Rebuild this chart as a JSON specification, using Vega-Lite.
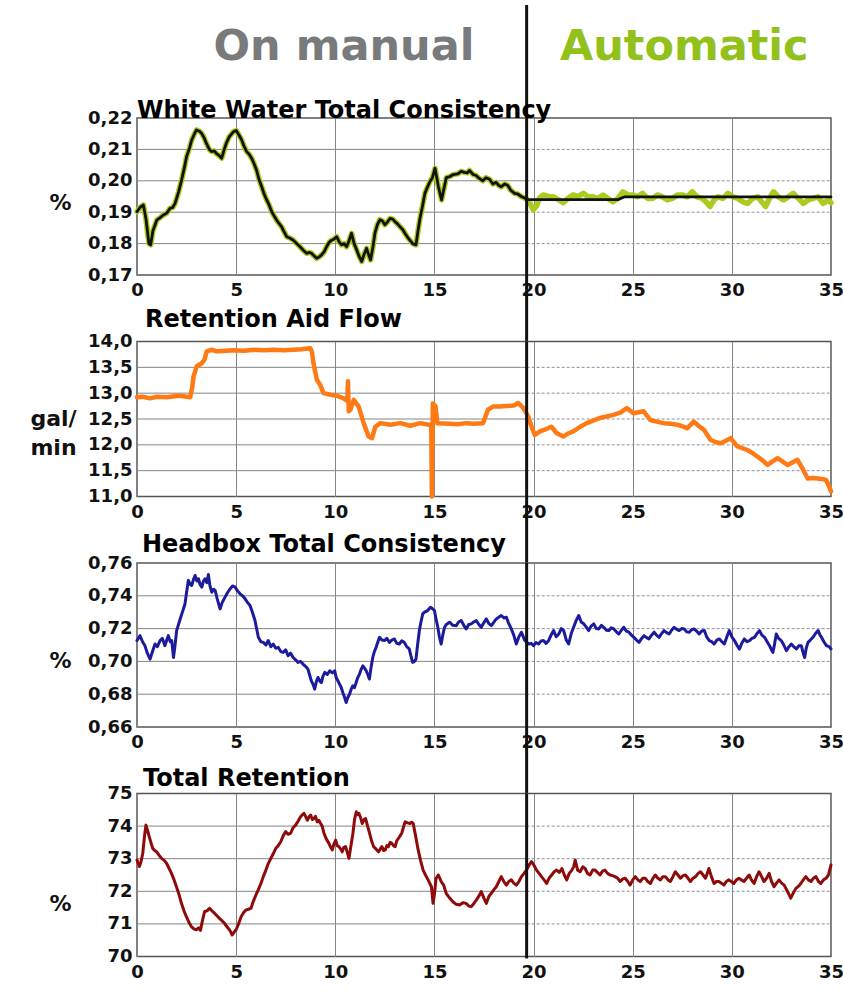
{
  "$schema": "https://vega.github.io/schema/vega-lite/v6.json",
  "background": "white",
  "padding": {"left": 29, "top": 2, "right": 0, "bottom": 8},
  "bounds": "flush",
  "spacing": 66.5,
  "config": {
    "font": "DejaVu Sans",
    "view": {"stroke": "#555555", "strokeWidth": 1.5},
    "axis": {
      "labelFont": "DejaVu Sans",
      "labelFontWeight": "bold",
      "labelFontSize": 18,
      "labelColor": "#111111",
      "ticks": false,
      "domain": false,
      "labelFlush": false,
      "labelOverlap": false,
      "gridColor": "#858585",
      "gridWidth": 1,
      "gridOpacity": 1,
      "titleFont": "DejaVu Sans",
      "titleFontWeight": "bold",
      "titleFontSize": 22,
      "titleColor": "#111111"
    },
    "axisX": {"grid": true, "labelPadding": 6.5},
    "axisY": {"grid": false, "labelPadding": 5, "titleAngle": 0, "titleAlign": "center", "titleBaseline": "middle", "titleX": -77, "titleLineHeight": 29},
    "title": {"font": "DejaVu Sans", "fontSize": 24, "fontWeight": "bold", "color": "#000000", "anchor": "start", "frame": "group"},
    "line": {"strokeJoin": "round", "strokeCap": "round"}
  },
  "datasets": {
    "switch": [{"t": 19.65, "event": "control switched to automatic"}],
    "modes": [
      {"mode": "On manual", "t": 10.44},
      {"mode": "Automatic", "t": 27.6}
    ],
    "g1": [{"v": 0.18}, {"v": 0.19}, {"v": 0.20}, {"v": 0.21}],
    "g2": [{"v": 11.5}, {"v": 12.0}, {"v": 12.5}, {"v": 13.0}, {"v": 13.5}],
    "g3": [{"v": 0.68}, {"v": 0.70}, {"v": 0.72}, {"v": 0.74}],
    "g4": [{"v": 71}, {"v": 72}, {"v": 73}, {"v": 74}],
    "ww": [
      {"t": 0, "v": 0.1902}, {"t": 0.15, "v": 0.1915}, {"t": 0.32, "v": 0.1923}, {"t": 0.45, "v": 0.188}, {"t": 0.6, "v": 0.18}, {"t": 0.69, "v": 0.1796}, {"t": 0.8, "v": 0.184}, {"t": 1.0, "v": 0.1875}, {"t": 1.15, "v": 0.1882}, {"t": 1.33, "v": 0.1891}, {"t": 1.5, "v": 0.1897}, {"t": 1.66, "v": 0.1912}, {"t": 1.8, "v": 0.1915}, {"t": 1.92, "v": 0.1928}, {"t": 2.1, "v": 0.1965}, {"t": 2.25, "v": 0.2003}, {"t": 2.4, "v": 0.2045}, {"t": 2.5, "v": 0.2077}, {"t": 2.65, "v": 0.2105}, {"t": 2.76, "v": 0.213}, {"t": 2.9, "v": 0.215}, {"t": 3.0, "v": 0.2162}, {"t": 3.15, "v": 0.2158}, {"t": 3.26, "v": 0.2151}, {"t": 3.4, "v": 0.2135}, {"t": 3.5, "v": 0.2119}, {"t": 3.65, "v": 0.21}, {"t": 3.76, "v": 0.2093}, {"t": 3.9, "v": 0.2095}, {"t": 4.0, "v": 0.2087}, {"t": 4.15, "v": 0.208}, {"t": 4.27, "v": 0.2072}, {"t": 4.4, "v": 0.21}, {"t": 4.5, "v": 0.2119}, {"t": 4.65, "v": 0.214}, {"t": 4.86, "v": 0.2156}, {"t": 5.0, "v": 0.216}, {"t": 5.15, "v": 0.2145}, {"t": 5.28, "v": 0.213}, {"t": 5.4, "v": 0.211}, {"t": 5.53, "v": 0.2093}, {"t": 5.65, "v": 0.2085}, {"t": 5.78, "v": 0.2072}, {"t": 5.9, "v": 0.2055}, {"t": 6.03, "v": 0.2034}, {"t": 6.15, "v": 0.2005}, {"t": 6.29, "v": 0.1981}, {"t": 6.4, "v": 0.196}, {"t": 6.54, "v": 0.1939}, {"t": 6.65, "v": 0.1925}, {"t": 6.79, "v": 0.1902}, {"t": 6.9, "v": 0.189}, {"t": 7.04, "v": 0.1875}, {"t": 7.15, "v": 0.1865}, {"t": 7.29, "v": 0.1854}, {"t": 7.4, "v": 0.184}, {"t": 7.55, "v": 0.1822}, {"t": 7.7, "v": 0.1818}, {"t": 7.88, "v": 0.1811}, {"t": 8.05, "v": 0.18}, {"t": 8.22, "v": 0.179}, {"t": 8.4, "v": 0.1778}, {"t": 8.55, "v": 0.1769}, {"t": 8.7, "v": 0.1772}, {"t": 8.8, "v": 0.1769}, {"t": 8.95, "v": 0.176}, {"t": 9.06, "v": 0.1753}, {"t": 9.2, "v": 0.1758}, {"t": 9.31, "v": 0.1764}, {"t": 9.45, "v": 0.1775}, {"t": 9.56, "v": 0.179}, {"t": 9.7, "v": 0.1805}, {"t": 9.82, "v": 0.1811}, {"t": 9.95, "v": 0.1815}, {"t": 10.07, "v": 0.1822}, {"t": 10.2, "v": 0.1805}, {"t": 10.32, "v": 0.1796}, {"t": 10.45, "v": 0.18}, {"t": 10.57, "v": 0.179}, {"t": 10.7, "v": 0.181}, {"t": 10.82, "v": 0.1833}, {"t": 10.95, "v": 0.18}, {"t": 11.08, "v": 0.178}, {"t": 11.2, "v": 0.176}, {"t": 11.33, "v": 0.1743}, {"t": 11.45, "v": 0.1765}, {"t": 11.58, "v": 0.1785}, {"t": 11.68, "v": 0.1765}, {"t": 11.78, "v": 0.1748}, {"t": 11.9, "v": 0.179}, {"t": 12.0, "v": 0.1833}, {"t": 12.12, "v": 0.186}, {"t": 12.25, "v": 0.1876}, {"t": 12.38, "v": 0.1872}, {"t": 12.5, "v": 0.186}, {"t": 12.62, "v": 0.1868}, {"t": 12.76, "v": 0.188}, {"t": 12.9, "v": 0.1878}, {"t": 13.01, "v": 0.187}, {"t": 13.15, "v": 0.1862}, {"t": 13.26, "v": 0.1854}, {"t": 13.4, "v": 0.1845}, {"t": 13.51, "v": 0.1833}, {"t": 13.65, "v": 0.182}, {"t": 13.76, "v": 0.1811}, {"t": 13.9, "v": 0.18}, {"t": 14.07, "v": 0.1796}, {"t": 14.17, "v": 0.184}, {"t": 14.27, "v": 0.188}, {"t": 14.4, "v": 0.192}, {"t": 14.52, "v": 0.196}, {"t": 14.65, "v": 0.198}, {"t": 14.77, "v": 0.1997}, {"t": 14.9, "v": 0.201}, {"t": 15.03, "v": 0.204}, {"t": 15.12, "v": 0.201}, {"t": 15.2, "v": 0.1981}, {"t": 15.36, "v": 0.1939}, {"t": 15.48, "v": 0.1975}, {"t": 15.6, "v": 0.201}, {"t": 15.76, "v": 0.2013}, {"t": 15.95, "v": 0.202}, {"t": 16.18, "v": 0.2022}, {"t": 16.35, "v": 0.203}, {"t": 16.52, "v": 0.2027}, {"t": 16.65, "v": 0.2025}, {"t": 16.77, "v": 0.2033}, {"t": 16.95, "v": 0.202}, {"t": 17.1, "v": 0.2017}, {"t": 17.25, "v": 0.2008}, {"t": 17.44, "v": 0.2}, {"t": 17.6, "v": 0.201}, {"t": 17.78, "v": 0.2005}, {"t": 17.95, "v": 0.199}, {"t": 18.11, "v": 0.1995}, {"t": 18.25, "v": 0.1985}, {"t": 18.37, "v": 0.1981}, {"t": 18.55, "v": 0.199}, {"t": 18.7, "v": 0.1985}, {"t": 18.85, "v": 0.197}, {"t": 19.04, "v": 0.196}, {"t": 19.2, "v": 0.1958}, {"t": 19.38, "v": 0.195}, {"t": 19.55, "v": 0.1945}, {"t": 19.68, "v": 0.194},
      {"t": 19.85, "v": 0.1925}, {"t": 19.99, "v": 0.1907}, {"t": 20.08, "v": 0.1915}, {"t": 20.15, "v": 0.192}, {"t": 20.3, "v": 0.1945}, {"t": 20.49, "v": 0.1955}, {"t": 20.75, "v": 0.195}, {"t": 21.0, "v": 0.1949}, {"t": 21.25, "v": 0.194}, {"t": 21.5, "v": 0.193}, {"t": 21.75, "v": 0.1945}, {"t": 22.0, "v": 0.1955}, {"t": 22.25, "v": 0.195}, {"t": 22.5, "v": 0.196}, {"t": 22.75, "v": 0.1949}, {"t": 23.0, "v": 0.1949}, {"t": 23.25, "v": 0.1944}, {"t": 23.5, "v": 0.1955}, {"t": 23.75, "v": 0.1944}, {"t": 24.0, "v": 0.1933}, {"t": 24.25, "v": 0.1944}, {"t": 24.5, "v": 0.1965}, {"t": 24.75, "v": 0.1955}, {"t": 25.0, "v": 0.1955}, {"t": 25.25, "v": 0.1949}, {"t": 25.5, "v": 0.196}, {"t": 25.75, "v": 0.1944}, {"t": 26.0, "v": 0.1944}, {"t": 26.25, "v": 0.1955}, {"t": 26.5, "v": 0.1949}, {"t": 26.75, "v": 0.1939}, {"t": 27.0, "v": 0.1944}, {"t": 27.25, "v": 0.1955}, {"t": 27.5, "v": 0.1955}, {"t": 27.75, "v": 0.1949}, {"t": 28.0, "v": 0.1965}, {"t": 28.25, "v": 0.1949}, {"t": 28.5, "v": 0.1944}, {"t": 28.7, "v": 0.1933}, {"t": 28.9, "v": 0.1918}, {"t": 29.1, "v": 0.1939}, {"t": 29.3, "v": 0.1949}, {"t": 29.55, "v": 0.1944}, {"t": 29.8, "v": 0.196}, {"t": 30.05, "v": 0.1949}, {"t": 30.3, "v": 0.1944}, {"t": 30.55, "v": 0.1933}, {"t": 30.8, "v": 0.1928}, {"t": 31.05, "v": 0.1944}, {"t": 31.3, "v": 0.1949}, {"t": 31.5, "v": 0.1933}, {"t": 31.7, "v": 0.1918}, {"t": 31.9, "v": 0.1944}, {"t": 32.1, "v": 0.1965}, {"t": 32.35, "v": 0.1949}, {"t": 32.6, "v": 0.1939}, {"t": 32.85, "v": 0.1949}, {"t": 33.1, "v": 0.196}, {"t": 33.35, "v": 0.1944}, {"t": 33.6, "v": 0.1928}, {"t": 33.85, "v": 0.1939}, {"t": 34.1, "v": 0.1944}, {"t": 34.35, "v": 0.1949}, {"t": 34.6, "v": 0.1928}, {"t": 34.85, "v": 0.1939}, {"t": 35.0, "v": 0.193}
    ],
    "ww_auto": [
      {"t": 19.65, "v": 0.194}, {"t": 24.25, "v": 0.194}, {"t": 24.6, "v": 0.1949}, {"t": 35.0, "v": 0.1949}
    ],
    "raf": [
      {"t": 0, "v": 12.92}, {"t": 0.3, "v": 12.93}, {"t": 0.66, "v": 12.9}, {"t": 1.0, "v": 12.93}, {"t": 1.5, "v": 12.92}, {"t": 1.9, "v": 12.94}, {"t": 2.17, "v": 12.95}, {"t": 2.5, "v": 12.93}, {"t": 2.68, "v": 12.92}, {"t": 2.78, "v": 13.1}, {"t": 2.85, "v": 13.32}, {"t": 3.01, "v": 13.52}, {"t": 3.27, "v": 13.58}, {"t": 3.4, "v": 13.65}, {"t": 3.52, "v": 13.81}, {"t": 3.77, "v": 13.84}, {"t": 4.02, "v": 13.81}, {"t": 4.5, "v": 13.82}, {"t": 4.87, "v": 13.83}, {"t": 5.4, "v": 13.82}, {"t": 5.88, "v": 13.84}, {"t": 6.4, "v": 13.83}, {"t": 6.89, "v": 13.84}, {"t": 7.4, "v": 13.83}, {"t": 7.9, "v": 13.84}, {"t": 8.3, "v": 13.85}, {"t": 8.74, "v": 13.87}, {"t": 8.82, "v": 13.8}, {"t": 8.9, "v": 13.58}, {"t": 9.07, "v": 13.26}, {"t": 9.24, "v": 13.16}, {"t": 9.41, "v": 13.0}, {"t": 9.75, "v": 12.97}, {"t": 10.08, "v": 12.95}, {"t": 10.42, "v": 12.9}, {"t": 10.6, "v": 12.85}, {"t": 10.64, "v": 13.23}, {"t": 10.68, "v": 12.65}, {"t": 10.76, "v": 12.68}, {"t": 10.93, "v": 12.87}, {"t": 11.18, "v": 12.74}, {"t": 11.43, "v": 12.42}, {"t": 11.68, "v": 12.16}, {"t": 11.85, "v": 12.13}, {"t": 12.02, "v": 12.35}, {"t": 12.27, "v": 12.42}, {"t": 12.78, "v": 12.39}, {"t": 13.28, "v": 12.42}, {"t": 13.79, "v": 12.37}, {"t": 14.29, "v": 12.42}, {"t": 14.72, "v": 12.39}, {"t": 14.84, "v": 12.39}, {"t": 14.87, "v": 11.0}, {"t": 14.92, "v": 12.8}, {"t": 15.05, "v": 12.75}, {"t": 15.15, "v": 12.42}, {"t": 15.76, "v": 12.41}, {"t": 16.2, "v": 12.4}, {"t": 16.6, "v": 12.42}, {"t": 17.0, "v": 12.41}, {"t": 17.45, "v": 12.42}, {"t": 17.7, "v": 12.68}, {"t": 17.95, "v": 12.74}, {"t": 18.3, "v": 12.74}, {"t": 18.63, "v": 12.75}, {"t": 19.0, "v": 12.76}, {"t": 19.22, "v": 12.81}, {"t": 19.47, "v": 12.72}, {"t": 19.73, "v": 12.55}, {"t": 19.9, "v": 12.35}, {"t": 20.06, "v": 12.19}, {"t": 20.32, "v": 12.26}, {"t": 20.6, "v": 12.3}, {"t": 20.9, "v": 12.35}, {"t": 21.16, "v": 12.23}, {"t": 21.5, "v": 12.16}, {"t": 21.75, "v": 12.22}, {"t": 22.0, "v": 12.26}, {"t": 22.35, "v": 12.35}, {"t": 22.68, "v": 12.42}, {"t": 23.0, "v": 12.47}, {"t": 23.35, "v": 12.52}, {"t": 23.7, "v": 12.55}, {"t": 24.03, "v": 12.58}, {"t": 24.4, "v": 12.63}, {"t": 24.7, "v": 12.71}, {"t": 25.04, "v": 12.61}, {"t": 25.3, "v": 12.63}, {"t": 25.55, "v": 12.65}, {"t": 25.89, "v": 12.48}, {"t": 26.2, "v": 12.45}, {"t": 26.56, "v": 12.42}, {"t": 26.9, "v": 12.41}, {"t": 27.24, "v": 12.39}, {"t": 27.5, "v": 12.36}, {"t": 27.74, "v": 12.32}, {"t": 28.08, "v": 12.45}, {"t": 28.35, "v": 12.36}, {"t": 28.59, "v": 12.29}, {"t": 28.92, "v": 12.1}, {"t": 29.2, "v": 12.05}, {"t": 29.43, "v": 12.03}, {"t": 29.7, "v": 12.08}, {"t": 29.94, "v": 12.13}, {"t": 30.27, "v": 11.97}, {"t": 30.5, "v": 11.94}, {"t": 30.78, "v": 11.9}, {"t": 31.05, "v": 11.84}, {"t": 31.29, "v": 11.77}, {"t": 31.55, "v": 11.7}, {"t": 31.8, "v": 11.61}, {"t": 32.05, "v": 11.68}, {"t": 32.3, "v": 11.74}, {"t": 32.55, "v": 11.68}, {"t": 32.81, "v": 11.61}, {"t": 33.05, "v": 11.66}, {"t": 33.31, "v": 11.71}, {"t": 33.55, "v": 11.55}, {"t": 33.82, "v": 11.35}, {"t": 34.1, "v": 11.36}, {"t": 34.33, "v": 11.35}, {"t": 34.55, "v": 11.34}, {"t": 34.75, "v": 11.32}, {"t": 34.9, "v": 11.2}, {"t": 35.0, "v": 11.1}
    ],
    "hb": [
      {"t": 0, "v": 0.7127}, {"t": 0.15, "v": 0.7157}, {"t": 0.28, "v": 0.712}, {"t": 0.4, "v": 0.7096}, {"t": 0.52, "v": 0.705}, {"t": 0.66, "v": 0.7014}, {"t": 0.78, "v": 0.706}, {"t": 0.91, "v": 0.7106}, {"t": 1.03, "v": 0.709}, {"t": 1.16, "v": 0.7127}, {"t": 1.28, "v": 0.714}, {"t": 1.41, "v": 0.7096}, {"t": 1.5, "v": 0.713}, {"t": 1.58, "v": 0.7157}, {"t": 1.68, "v": 0.712}, {"t": 1.75, "v": 0.7127}, {"t": 1.84, "v": 0.7024}, {"t": 1.92, "v": 0.71}, {"t": 2.0, "v": 0.7188}, {"t": 2.13, "v": 0.724}, {"t": 2.26, "v": 0.729}, {"t": 2.34, "v": 0.732}, {"t": 2.42, "v": 0.7351}, {"t": 2.5, "v": 0.742}, {"t": 2.59, "v": 0.7494}, {"t": 2.68, "v": 0.747}, {"t": 2.76, "v": 0.7463}, {"t": 2.85, "v": 0.75}, {"t": 2.93, "v": 0.7524}, {"t": 3.02, "v": 0.749}, {"t": 3.1, "v": 0.7504}, {"t": 3.18, "v": 0.747}, {"t": 3.27, "v": 0.7453}, {"t": 3.35, "v": 0.749}, {"t": 3.43, "v": 0.7504}, {"t": 3.52, "v": 0.748}, {"t": 3.6, "v": 0.753}, {"t": 3.68, "v": 0.746}, {"t": 3.77, "v": 0.7422}, {"t": 3.86, "v": 0.744}, {"t": 3.94, "v": 0.7433}, {"t": 4.05, "v": 0.738}, {"t": 4.19, "v": 0.732}, {"t": 4.3, "v": 0.736}, {"t": 4.44, "v": 0.7392}, {"t": 4.57, "v": 0.742}, {"t": 4.7, "v": 0.7443}, {"t": 4.82, "v": 0.746}, {"t": 4.95, "v": 0.7453}, {"t": 5.07, "v": 0.743}, {"t": 5.2, "v": 0.7412}, {"t": 5.32, "v": 0.74}, {"t": 5.45, "v": 0.7382}, {"t": 5.57, "v": 0.736}, {"t": 5.7, "v": 0.7341}, {"t": 5.82, "v": 0.73}, {"t": 5.95, "v": 0.7249}, {"t": 6.05, "v": 0.719}, {"t": 6.12, "v": 0.7147}, {"t": 6.25, "v": 0.712}, {"t": 6.37, "v": 0.7116}, {"t": 6.5, "v": 0.71}, {"t": 6.62, "v": 0.7127}, {"t": 6.75, "v": 0.709}, {"t": 6.87, "v": 0.7106}, {"t": 7.0, "v": 0.708}, {"t": 7.12, "v": 0.7086}, {"t": 7.25, "v": 0.706}, {"t": 7.37, "v": 0.7055}, {"t": 7.5, "v": 0.707}, {"t": 7.62, "v": 0.7035}, {"t": 7.75, "v": 0.705}, {"t": 7.87, "v": 0.7024}, {"t": 8.0, "v": 0.701}, {"t": 8.12, "v": 0.6994}, {"t": 8.25, "v": 0.7}, {"t": 8.37, "v": 0.6984}, {"t": 8.5, "v": 0.697}, {"t": 8.62, "v": 0.6953}, {"t": 8.7, "v": 0.692}, {"t": 8.79, "v": 0.6882}, {"t": 8.88, "v": 0.686}, {"t": 8.96, "v": 0.6831}, {"t": 9.05, "v": 0.688}, {"t": 9.13, "v": 0.6902}, {"t": 9.22, "v": 0.688}, {"t": 9.3, "v": 0.6871}, {"t": 9.38, "v": 0.691}, {"t": 9.47, "v": 0.6933}, {"t": 9.6, "v": 0.692}, {"t": 9.72, "v": 0.6943}, {"t": 9.85, "v": 0.693}, {"t": 9.97, "v": 0.6943}, {"t": 10.05, "v": 0.69}, {"t": 10.13, "v": 0.6882}, {"t": 10.22, "v": 0.686}, {"t": 10.3, "v": 0.6841}, {"t": 10.38, "v": 0.681}, {"t": 10.47, "v": 0.678}, {"t": 10.55, "v": 0.6749}, {"t": 10.63, "v": 0.678}, {"t": 10.72, "v": 0.68}, {"t": 10.8, "v": 0.683}, {"t": 10.88, "v": 0.6851}, {"t": 10.97, "v": 0.684}, {"t": 11.05, "v": 0.6871}, {"t": 11.13, "v": 0.69}, {"t": 11.22, "v": 0.6922}, {"t": 11.3, "v": 0.695}, {"t": 11.39, "v": 0.6973}, {"t": 11.47, "v": 0.696}, {"t": 11.56, "v": 0.6943}, {"t": 11.64, "v": 0.692}, {"t": 11.72, "v": 0.6892}, {"t": 11.8, "v": 0.696}, {"t": 11.89, "v": 0.7024}, {"t": 11.97, "v": 0.706}, {"t": 12.06, "v": 0.7086}, {"t": 12.15, "v": 0.712}, {"t": 12.23, "v": 0.7147}, {"t": 12.35, "v": 0.713}, {"t": 12.48, "v": 0.7127}, {"t": 12.6, "v": 0.714}, {"t": 12.73, "v": 0.7116}, {"t": 12.85, "v": 0.713}, {"t": 12.98, "v": 0.7137}, {"t": 13.1, "v": 0.711}, {"t": 13.23, "v": 0.7106}, {"t": 13.35, "v": 0.7125}, {"t": 13.48, "v": 0.7116}, {"t": 13.6, "v": 0.709}, {"t": 13.73, "v": 0.7076}, {"t": 13.82, "v": 0.703}, {"t": 13.9, "v": 0.6994}, {"t": 13.99, "v": 0.7}, {"t": 14.07, "v": 0.7014}, {"t": 14.15, "v": 0.71}, {"t": 14.24, "v": 0.7188}, {"t": 14.32, "v": 0.724}, {"t": 14.41, "v": 0.729}, {"t": 14.5, "v": 0.73}, {"t": 14.66, "v": 0.731}, {"t": 14.8, "v": 0.733}, {"t": 14.92, "v": 0.732}, {"t": 15.0, "v": 0.731}, {"t": 15.08, "v": 0.726}, {"t": 15.17, "v": 0.7208}, {"t": 15.25, "v": 0.715}, {"t": 15.34, "v": 0.7106}, {"t": 15.42, "v": 0.716}, {"t": 15.51, "v": 0.7208}, {"t": 15.6, "v": 0.7225}, {"t": 15.76, "v": 0.7239}, {"t": 15.93, "v": 0.722}, {"t": 16.1, "v": 0.7218}, {"t": 16.22, "v": 0.724}, {"t": 16.35, "v": 0.7249}, {"t": 16.48, "v": 0.722}, {"t": 16.6, "v": 0.7198}, {"t": 16.73, "v": 0.7225}, {"t": 16.86, "v": 0.7229}, {"t": 16.98, "v": 0.724}, {"t": 17.11, "v": 0.7249}, {"t": 17.24, "v": 0.7225}, {"t": 17.36, "v": 0.7208}, {"t": 17.49, "v": 0.7235}, {"t": 17.62, "v": 0.7259}, {"t": 17.75, "v": 0.723}, {"t": 17.87, "v": 0.7218}, {"t": 18.0, "v": 0.724}, {"t": 18.12, "v": 0.7259}, {"t": 18.25, "v": 0.727}, {"t": 18.37, "v": 0.728}, {"t": 18.5, "v": 0.7265}, {"t": 18.63, "v": 0.7269}, {"t": 18.75, "v": 0.723}, {"t": 18.88, "v": 0.7198}, {"t": 19.0, "v": 0.716}, {"t": 19.13, "v": 0.7106}, {"t": 19.26, "v": 0.715}, {"t": 19.39, "v": 0.7178}, {"t": 19.55, "v": 0.713}, {"t": 19.75, "v": 0.7106}, {"t": 19.88, "v": 0.711}, {"t": 20.0, "v": 0.7096}, {"t": 20.12, "v": 0.7115}, {"t": 20.25, "v": 0.7106}, {"t": 20.38, "v": 0.7125}, {"t": 20.5, "v": 0.7127}, {"t": 20.63, "v": 0.711}, {"t": 20.76, "v": 0.7127}, {"t": 20.88, "v": 0.716}, {"t": 21.01, "v": 0.7188}, {"t": 21.14, "v": 0.715}, {"t": 21.27, "v": 0.7167}, {"t": 21.4, "v": 0.72}, {"t": 21.52, "v": 0.7188}, {"t": 21.65, "v": 0.713}, {"t": 21.77, "v": 0.7106}, {"t": 21.9, "v": 0.717}, {"t": 22.02, "v": 0.7208}, {"t": 22.15, "v": 0.725}, {"t": 22.28, "v": 0.728}, {"t": 22.4, "v": 0.724}, {"t": 22.53, "v": 0.7229}, {"t": 22.65, "v": 0.721}, {"t": 22.78, "v": 0.7188}, {"t": 22.9, "v": 0.7215}, {"t": 23.04, "v": 0.7229}, {"t": 23.16, "v": 0.72}, {"t": 23.29, "v": 0.7198}, {"t": 23.42, "v": 0.722}, {"t": 23.54, "v": 0.7208}, {"t": 23.67, "v": 0.719}, {"t": 23.8, "v": 0.7188}, {"t": 23.92, "v": 0.7205}, {"t": 24.05, "v": 0.7198}, {"t": 24.18, "v": 0.718}, {"t": 24.3, "v": 0.7167}, {"t": 24.43, "v": 0.719}, {"t": 24.55, "v": 0.7208}, {"t": 24.68, "v": 0.7185}, {"t": 24.81, "v": 0.7178}, {"t": 24.94, "v": 0.716}, {"t": 25.06, "v": 0.7147}, {"t": 25.19, "v": 0.713}, {"t": 25.32, "v": 0.7116}, {"t": 25.45, "v": 0.714}, {"t": 25.57, "v": 0.7157}, {"t": 25.7, "v": 0.7145}, {"t": 25.82, "v": 0.7137}, {"t": 25.95, "v": 0.716}, {"t": 26.08, "v": 0.7178}, {"t": 26.2, "v": 0.716}, {"t": 26.33, "v": 0.7147}, {"t": 26.46, "v": 0.717}, {"t": 26.58, "v": 0.7188}, {"t": 26.71, "v": 0.7175}, {"t": 26.84, "v": 0.7167}, {"t": 26.96, "v": 0.719}, {"t": 27.09, "v": 0.7208}, {"t": 27.22, "v": 0.7195}, {"t": 27.34, "v": 0.7188}, {"t": 27.47, "v": 0.72}, {"t": 27.6, "v": 0.7198}, {"t": 27.72, "v": 0.718}, {"t": 27.85, "v": 0.7178}, {"t": 27.98, "v": 0.7195}, {"t": 28.1, "v": 0.7198}, {"t": 28.22, "v": 0.7185}, {"t": 28.35, "v": 0.7167}, {"t": 28.48, "v": 0.7185}, {"t": 28.61, "v": 0.7188}, {"t": 28.73, "v": 0.715}, {"t": 28.86, "v": 0.7127}, {"t": 28.98, "v": 0.712}, {"t": 29.11, "v": 0.7106}, {"t": 29.24, "v": 0.713}, {"t": 29.37, "v": 0.7137}, {"t": 29.5, "v": 0.712}, {"t": 29.62, "v": 0.7106}, {"t": 29.75, "v": 0.715}, {"t": 29.87, "v": 0.7188}, {"t": 30.0, "v": 0.715}, {"t": 30.13, "v": 0.7127}, {"t": 30.25, "v": 0.71}, {"t": 30.38, "v": 0.7075}, {"t": 30.5, "v": 0.711}, {"t": 30.63, "v": 0.7137}, {"t": 30.76, "v": 0.712}, {"t": 30.89, "v": 0.7127}, {"t": 31.01, "v": 0.714}, {"t": 31.14, "v": 0.7147}, {"t": 31.27, "v": 0.717}, {"t": 31.39, "v": 0.7188}, {"t": 31.52, "v": 0.716}, {"t": 31.65, "v": 0.7147}, {"t": 31.78, "v": 0.712}, {"t": 31.9, "v": 0.7096}, {"t": 32.0, "v": 0.707}, {"t": 32.07, "v": 0.7055}, {"t": 32.16, "v": 0.711}, {"t": 32.24, "v": 0.7167}, {"t": 32.36, "v": 0.714}, {"t": 32.49, "v": 0.7127}, {"t": 32.62, "v": 0.71}, {"t": 32.75, "v": 0.7065}, {"t": 32.88, "v": 0.709}, {"t": 33.0, "v": 0.7106}, {"t": 33.12, "v": 0.709}, {"t": 33.25, "v": 0.7076}, {"t": 33.38, "v": 0.7095}, {"t": 33.5, "v": 0.7096}, {"t": 33.6, "v": 0.705}, {"t": 33.67, "v": 0.7024}, {"t": 33.75, "v": 0.708}, {"t": 33.84, "v": 0.7116}, {"t": 33.96, "v": 0.713}, {"t": 34.09, "v": 0.7147}, {"t": 34.22, "v": 0.717}, {"t": 34.35, "v": 0.7188}, {"t": 34.45, "v": 0.716}, {"t": 34.52, "v": 0.7147}, {"t": 34.64, "v": 0.712}, {"t": 34.77, "v": 0.7096}, {"t": 34.9, "v": 0.709}, {"t": 35.0, "v": 0.7076}
    ],
    "tr": [
      {"t": 0, "v": 72.96}, {"t": 0.12, "v": 72.76}, {"t": 0.2, "v": 72.9}, {"t": 0.29, "v": 73.16}, {"t": 0.38, "v": 73.7}, {"t": 0.45, "v": 74.03}, {"t": 0.54, "v": 73.85}, {"t": 0.62, "v": 73.67}, {"t": 0.7, "v": 73.5}, {"t": 0.79, "v": 73.32}, {"t": 0.89, "v": 73.25}, {"t": 0.99, "v": 73.21}, {"t": 1.12, "v": 73.1}, {"t": 1.24, "v": 73.01}, {"t": 1.37, "v": 72.95}, {"t": 1.49, "v": 72.86}, {"t": 1.62, "v": 72.7}, {"t": 1.74, "v": 72.55}, {"t": 1.87, "v": 72.35}, {"t": 1.99, "v": 72.14}, {"t": 2.12, "v": 71.9}, {"t": 2.24, "v": 71.63}, {"t": 2.37, "v": 71.4}, {"t": 2.49, "v": 71.22}, {"t": 2.62, "v": 71.05}, {"t": 2.74, "v": 70.92}, {"t": 2.87, "v": 70.85}, {"t": 2.99, "v": 70.82}, {"t": 3.1, "v": 70.88}, {"t": 3.2, "v": 70.8}, {"t": 3.3, "v": 71.1}, {"t": 3.41, "v": 71.38}, {"t": 3.53, "v": 71.4}, {"t": 3.66, "v": 71.48}, {"t": 3.78, "v": 71.4}, {"t": 3.91, "v": 71.33}, {"t": 4.03, "v": 71.25}, {"t": 4.16, "v": 71.17}, {"t": 4.28, "v": 71.1}, {"t": 4.41, "v": 71.02}, {"t": 4.53, "v": 70.92}, {"t": 4.66, "v": 70.82}, {"t": 4.73, "v": 70.75}, {"t": 4.8, "v": 70.66}, {"t": 4.9, "v": 70.75}, {"t": 5.0, "v": 70.82}, {"t": 5.12, "v": 71.0}, {"t": 5.25, "v": 71.22}, {"t": 5.38, "v": 71.35}, {"t": 5.5, "v": 71.43}, {"t": 5.62, "v": 71.45}, {"t": 5.75, "v": 71.48}, {"t": 5.87, "v": 71.7}, {"t": 6.0, "v": 71.89}, {"t": 6.12, "v": 72.05}, {"t": 6.25, "v": 72.24}, {"t": 6.37, "v": 72.45}, {"t": 6.5, "v": 72.65}, {"t": 6.62, "v": 72.85}, {"t": 6.75, "v": 73.01}, {"t": 6.87, "v": 73.15}, {"t": 7.0, "v": 73.32}, {"t": 7.12, "v": 73.4}, {"t": 7.25, "v": 73.52}, {"t": 7.37, "v": 73.7}, {"t": 7.5, "v": 73.83}, {"t": 7.62, "v": 73.75}, {"t": 7.75, "v": 73.78}, {"t": 7.87, "v": 73.95}, {"t": 8.0, "v": 74.03}, {"t": 8.12, "v": 74.15}, {"t": 8.25, "v": 74.29}, {"t": 8.34, "v": 74.35}, {"t": 8.42, "v": 74.39}, {"t": 8.5, "v": 74.3}, {"t": 8.59, "v": 74.18}, {"t": 8.67, "v": 74.28}, {"t": 8.76, "v": 74.34}, {"t": 8.84, "v": 74.2}, {"t": 8.92, "v": 74.23}, {"t": 9.0, "v": 74.3}, {"t": 9.09, "v": 74.13}, {"t": 9.17, "v": 74.18}, {"t": 9.26, "v": 74.08}, {"t": 9.34, "v": 74.0}, {"t": 9.43, "v": 73.78}, {"t": 9.55, "v": 73.6}, {"t": 9.68, "v": 73.47}, {"t": 9.77, "v": 73.35}, {"t": 9.85, "v": 73.27}, {"t": 9.93, "v": 73.45}, {"t": 10.02, "v": 73.57}, {"t": 10.1, "v": 73.4}, {"t": 10.18, "v": 73.37}, {"t": 10.27, "v": 73.3}, {"t": 10.35, "v": 73.21}, {"t": 10.43, "v": 73.35}, {"t": 10.52, "v": 73.37}, {"t": 10.6, "v": 73.2}, {"t": 10.69, "v": 73.01}, {"t": 10.79, "v": 73.4}, {"t": 10.89, "v": 73.78}, {"t": 10.97, "v": 74.2}, {"t": 11.06, "v": 74.44}, {"t": 11.12, "v": 74.35}, {"t": 11.19, "v": 74.39}, {"t": 11.28, "v": 74.25}, {"t": 11.36, "v": 74.08}, {"t": 11.45, "v": 74.2}, {"t": 11.53, "v": 74.23}, {"t": 11.63, "v": 74.0}, {"t": 11.73, "v": 73.78}, {"t": 11.83, "v": 73.55}, {"t": 11.93, "v": 73.37}, {"t": 12.05, "v": 73.3}, {"t": 12.18, "v": 73.21}, {"t": 12.27, "v": 73.3}, {"t": 12.35, "v": 73.37}, {"t": 12.44, "v": 73.25}, {"t": 12.52, "v": 73.27}, {"t": 12.6, "v": 73.4}, {"t": 12.68, "v": 73.37}, {"t": 12.77, "v": 73.5}, {"t": 12.85, "v": 73.47}, {"t": 12.94, "v": 73.4}, {"t": 13.02, "v": 73.37}, {"t": 13.1, "v": 73.55}, {"t": 13.18, "v": 73.62}, {"t": 13.27, "v": 73.7}, {"t": 13.35, "v": 73.78}, {"t": 13.43, "v": 73.95}, {"t": 13.52, "v": 74.13}, {"t": 13.65, "v": 74.1}, {"t": 13.77, "v": 74.08}, {"t": 13.85, "v": 74.12}, {"t": 13.93, "v": 74.08}, {"t": 14.05, "v": 73.7}, {"t": 14.18, "v": 73.27}, {"t": 14.3, "v": 72.95}, {"t": 14.43, "v": 72.65}, {"t": 14.55, "v": 72.5}, {"t": 14.68, "v": 72.35}, {"t": 14.76, "v": 72.25}, {"t": 14.85, "v": 72.14}, {"t": 14.93, "v": 71.63}, {"t": 15.0, "v": 71.9}, {"t": 15.08, "v": 72.4}, {"t": 15.2, "v": 72.5}, {"t": 15.34, "v": 72.3}, {"t": 15.46, "v": 72.2}, {"t": 15.59, "v": 71.94}, {"t": 15.76, "v": 71.8}, {"t": 15.93, "v": 71.68}, {"t": 16.1, "v": 71.6}, {"t": 16.27, "v": 71.58}, {"t": 16.43, "v": 71.65}, {"t": 16.6, "v": 71.63}, {"t": 16.73, "v": 71.55}, {"t": 16.86, "v": 71.53}, {"t": 16.98, "v": 71.62}, {"t": 17.11, "v": 71.73}, {"t": 17.24, "v": 71.85}, {"t": 17.36, "v": 71.99}, {"t": 17.49, "v": 71.8}, {"t": 17.62, "v": 71.63}, {"t": 17.75, "v": 71.85}, {"t": 17.87, "v": 71.94}, {"t": 18.0, "v": 72.05}, {"t": 18.12, "v": 72.14}, {"t": 18.25, "v": 72.3}, {"t": 18.37, "v": 72.45}, {"t": 18.5, "v": 72.3}, {"t": 18.63, "v": 72.19}, {"t": 18.75, "v": 72.3}, {"t": 18.88, "v": 72.35}, {"t": 19.0, "v": 72.25}, {"t": 19.13, "v": 72.19}, {"t": 19.26, "v": 72.3}, {"t": 19.39, "v": 72.45}, {"t": 19.52, "v": 72.55}, {"t": 19.64, "v": 72.65}, {"t": 19.77, "v": 72.8}, {"t": 19.9, "v": 72.91}, {"t": 20.02, "v": 72.8}, {"t": 20.15, "v": 72.65}, {"t": 20.28, "v": 72.55}, {"t": 20.4, "v": 72.45}, {"t": 20.53, "v": 72.35}, {"t": 20.66, "v": 72.24}, {"t": 20.78, "v": 72.4}, {"t": 20.91, "v": 72.5}, {"t": 21.04, "v": 72.6}, {"t": 21.16, "v": 72.65}, {"t": 21.3, "v": 72.58}, {"t": 21.43, "v": 72.7}, {"t": 21.55, "v": 72.5}, {"t": 21.67, "v": 72.35}, {"t": 21.8, "v": 72.55}, {"t": 21.93, "v": 72.65}, {"t": 22.02, "v": 72.75}, {"t": 22.1, "v": 72.96}, {"t": 22.22, "v": 72.65}, {"t": 22.35, "v": 72.6}, {"t": 22.48, "v": 72.75}, {"t": 22.6, "v": 72.7}, {"t": 22.72, "v": 72.55}, {"t": 22.85, "v": 72.5}, {"t": 22.98, "v": 72.65}, {"t": 23.1, "v": 72.65}, {"t": 23.22, "v": 72.58}, {"t": 23.35, "v": 72.5}, {"t": 23.48, "v": 72.62}, {"t": 23.6, "v": 72.65}, {"t": 23.73, "v": 72.55}, {"t": 23.86, "v": 72.5}, {"t": 23.98, "v": 72.48}, {"t": 24.11, "v": 72.45}, {"t": 24.24, "v": 72.4}, {"t": 24.37, "v": 72.3}, {"t": 24.5, "v": 72.38}, {"t": 24.62, "v": 72.4}, {"t": 24.75, "v": 72.3}, {"t": 24.87, "v": 72.19}, {"t": 25.0, "v": 72.35}, {"t": 25.13, "v": 72.45}, {"t": 25.26, "v": 72.35}, {"t": 25.38, "v": 72.3}, {"t": 25.51, "v": 72.4}, {"t": 25.64, "v": 72.4}, {"t": 25.76, "v": 72.3}, {"t": 25.89, "v": 72.24}, {"t": 26.02, "v": 72.4}, {"t": 26.14, "v": 72.5}, {"t": 26.27, "v": 72.4}, {"t": 26.4, "v": 72.35}, {"t": 26.52, "v": 72.45}, {"t": 26.65, "v": 72.45}, {"t": 26.78, "v": 72.35}, {"t": 26.9, "v": 72.3}, {"t": 27.03, "v": 72.45}, {"t": 27.15, "v": 72.6}, {"t": 27.28, "v": 72.5}, {"t": 27.41, "v": 72.4}, {"t": 27.54, "v": 72.48}, {"t": 27.66, "v": 72.5}, {"t": 27.79, "v": 72.4}, {"t": 27.91, "v": 72.3}, {"t": 28.04, "v": 72.4}, {"t": 28.17, "v": 72.45}, {"t": 28.3, "v": 72.55}, {"t": 28.42, "v": 72.6}, {"t": 28.55, "v": 72.5}, {"t": 28.67, "v": 72.4}, {"t": 28.76, "v": 72.55}, {"t": 28.84, "v": 72.7}, {"t": 28.97, "v": 72.45}, {"t": 29.1, "v": 72.24}, {"t": 29.22, "v": 72.3}, {"t": 29.35, "v": 72.3}, {"t": 29.47, "v": 72.25}, {"t": 29.6, "v": 72.19}, {"t": 29.72, "v": 72.3}, {"t": 29.85, "v": 72.35}, {"t": 29.97, "v": 72.3}, {"t": 30.1, "v": 72.24}, {"t": 30.23, "v": 72.35}, {"t": 30.36, "v": 72.4}, {"t": 30.48, "v": 72.35}, {"t": 30.61, "v": 72.3}, {"t": 30.74, "v": 72.4}, {"t": 30.87, "v": 72.5}, {"t": 30.99, "v": 72.35}, {"t": 31.12, "v": 72.24}, {"t": 31.25, "v": 72.45}, {"t": 31.37, "v": 72.6}, {"t": 31.5, "v": 72.45}, {"t": 31.62, "v": 72.3}, {"t": 31.75, "v": 72.4}, {"t": 31.88, "v": 72.55}, {"t": 32.0, "v": 72.3}, {"t": 32.13, "v": 72.14}, {"t": 32.25, "v": 72.25}, {"t": 32.38, "v": 72.35}, {"t": 32.51, "v": 72.25}, {"t": 32.64, "v": 72.19}, {"t": 32.8, "v": 72.0}, {"t": 32.97, "v": 71.79}, {"t": 33.1, "v": 71.95}, {"t": 33.23, "v": 72.09}, {"t": 33.35, "v": 72.15}, {"t": 33.48, "v": 72.24}, {"t": 33.6, "v": 72.35}, {"t": 33.73, "v": 72.45}, {"t": 33.86, "v": 72.35}, {"t": 33.99, "v": 72.3}, {"t": 34.11, "v": 72.4}, {"t": 34.24, "v": 72.45}, {"t": 34.37, "v": 72.3}, {"t": 34.49, "v": 72.24}, {"t": 34.62, "v": 72.35}, {"t": 34.75, "v": 72.4}, {"t": 34.87, "v": 72.5}, {"t": 35.0, "v": 72.81}
    ]
  },
  "vconcat": [
    {
      "width": 694,
      "height": 157,
      "title": {"text": "White Water Total Consistency", "offset": -120, "dx": 0},
      "layer": [
        {
          "data": {"name": "g1"},
          "mark": {"type": "rule", "color": "#858585", "strokeWidth": 1},
          "encoding": {
            "y": {"field": "v", "type": "quantitative", "scale": {"domain": [0.17, 0.22], "nice": false, "zero": false}, "axis": {"title": "%", "titleY": 84, "values": [0.17, 0.18, 0.19, 0.2, 0.21, 0.22], "labelExpr": "replace(format(datum.value, '.2f'), '.', ',')"}},
            "x": {"datum": 0, "type": "quantitative", "scale": {"domain": [0, 35], "nice": false}, "axis": {"title": null, "values": [0, 5, 10, 15, 20, 25, 30, 35]}},
            "x2": {"datum": 19.65}
          }
        },
        {
          "data": {"name": "g1"},
          "mark": {"type": "rule", "color": "#8a8fa6", "strokeWidth": 1, "strokeDash": [3, 2]},
          "encoding": {
            "y": {"field": "v", "type": "quantitative", "axis": {"title": "%", "titleY": 84, "values": [0.17, 0.18, 0.19, 0.2, 0.21, 0.22], "labelExpr": "replace(format(datum.value, '.2f'), '.', ',')"}},
            "x": {"datum": 19.65, "type": "quantitative", "axis": {"title": null, "values": [0, 5, 10, 15, 20, 25, 30, 35]}},
            "x2": {"datum": 35}
          }
        },
        {
          "data": {"name": "ww"},
          "mark": {"type": "line", "color": "#a9cc1f", "strokeWidth": 5.5},
          "encoding": {
            "x": {"field": "t", "type": "quantitative", "axis": {"title": null, "values": [0, 5, 10, 15, 20, 25, 30, 35]}},
            "y": {"field": "v", "type": "quantitative", "axis": {"title": "%", "titleY": 84, "values": [0.17, 0.18, 0.19, 0.2, 0.21, 0.22], "labelExpr": "replace(format(datum.value, '.2f'), '.', ',')"}}
          }
        },
        {
          "data": {"name": "ww"},
          "transform": [{"filter": "datum.t <= 19.7"}],
          "mark": {"type": "line", "color": "#111111", "strokeWidth": 2.8},
          "encoding": {
            "x": {"field": "t", "type": "quantitative", "axis": {"title": null, "values": [0, 5, 10, 15, 20, 25, 30, 35]}},
            "y": {"field": "v", "type": "quantitative", "axis": {"title": "%", "titleY": 84, "values": [0.17, 0.18, 0.19, 0.2, 0.21, 0.22], "labelExpr": "replace(format(datum.value, '.2f'), '.', ',')"}}
          }
        },
        {
          "data": {"name": "ww_auto"},
          "mark": {"type": "line", "color": "#111111", "strokeWidth": 2.8},
          "encoding": {
            "x": {"field": "t", "type": "quantitative", "axis": {"title": null, "values": [0, 5, 10, 15, 20, 25, 30, 35]}},
            "y": {"field": "v", "type": "quantitative", "axis": {"title": "%", "titleY": 84, "values": [0.17, 0.18, 0.19, 0.2, 0.21, 0.22], "labelExpr": "replace(format(datum.value, '.2f'), '.', ',')"}}
          }
        },
        {
          "data": {"name": "modes"},
          "mark": {"type": "text", "font": "DejaVu Sans", "fontSize": 43, "fontWeight": "bold", "align": "center", "baseline": "alphabetic"},
          "encoding": {
            "x": {"field": "t", "type": "quantitative", "axis": {"title": null, "values": [0, 5, 10, 15, 20, 25, 30, 35]}},
            "y": {"datum": 0.2385, "type": "quantitative", "axis": {"title": "%", "titleY": 84, "values": [0.17, 0.18, 0.19, 0.2, 0.21, 0.22], "labelExpr": "replace(format(datum.value, '.2f'), '.', ',')"}},
            "text": {"field": "mode"},
            "color": {"field": "mode", "type": "nominal", "scale": {"domain": ["On manual", "Automatic"], "range": ["#787a7c", "#93c11c"]}, "legend": null}
          }
        },
        {
          "data": {"name": "switch"},
          "mark": {"type": "rule", "color": "#111111", "strokeWidth": 3},
          "encoding": {
            "x": {"field": "t", "type": "quantitative", "axis": {"title": null, "values": [0, 5, 10, 15, 20, 25, 30, 35]}},
            "y": {"datum": 0.256, "type": "quantitative", "axis": {"title": "%", "titleY": 84, "values": [0.17, 0.18, 0.19, 0.2, 0.21, 0.22], "labelExpr": "replace(format(datum.value, '.2f'), '.', ',')"}},
            "y2": {"datum": 0.1488}
          }
        }
      ]
    },
    {
      "width": 694,
      "height": 155,
      "title": {"text": "Retention Aid Flow", "offset": 0.5, "dx": 8},
      "layer": [
        {
          "data": {"name": "g2"},
          "mark": {"type": "rule", "color": "#858585", "strokeWidth": 1},
          "encoding": {
            "y": {"field": "v", "type": "quantitative", "scale": {"domain": [11, 14], "nice": false, "zero": false}, "axis": {"title": ["gal/", "min"], "titleX": -84, "titleY": 77, "values": [11, 11.5, 12, 12.5, 13, 13.5, 14], "labelExpr": "replace(format(datum.value, '.1f'), '.', ',')"}},
            "x": {"datum": 0, "type": "quantitative", "scale": {"domain": [0, 35], "nice": false}, "axis": {"title": null, "values": [0, 5, 10, 15, 20, 25, 30, 35]}},
            "x2": {"datum": 19.65}
          }
        },
        {
          "data": {"name": "g2"},
          "mark": {"type": "rule", "color": "#8a8fa6", "strokeWidth": 1, "strokeDash": [3, 2]},
          "encoding": {
            "y": {"field": "v", "type": "quantitative", "axis": {"title": ["gal/", "min"], "titleX": -84, "titleY": 77, "values": [11, 11.5, 12, 12.5, 13, 13.5, 14], "labelExpr": "replace(format(datum.value, '.1f'), '.', ',')"}},
            "x": {"datum": 19.65, "type": "quantitative", "axis": {"title": null, "values": [0, 5, 10, 15, 20, 25, 30, 35]}},
            "x2": {"datum": 35}
          }
        },
        {
          "data": {"name": "raf"},
          "mark": {"type": "line", "color": "#ff7a14", "strokeWidth": 4.5},
          "encoding": {
            "x": {"field": "t", "type": "quantitative", "axis": {"title": null, "values": [0, 5, 10, 15, 20, 25, 30, 35]}},
            "y": {"field": "v", "type": "quantitative", "axis": {"title": ["gal/", "min"], "titleX": -84, "titleY": 77, "values": [11, 11.5, 12, 12.5, 13, 13.5, 14], "labelExpr": "replace(format(datum.value, '.1f'), '.', ',')"}}
          }
        },
        {
          "data": {"name": "switch"},
          "mark": {"type": "rule", "color": "#111111", "strokeWidth": 3},
          "encoding": {
            "x": {"field": "t", "type": "quantitative", "axis": {"title": null, "values": [0, 5, 10, 15, 20, 25, 30, 35]}},
            "y": {"datum": 14, "type": "quantitative", "axis": {"title": ["gal/", "min"], "titleX": -84, "titleY": 77, "values": [11, 11.5, 12, 12.5, 13, 13.5, 14], "labelExpr": "replace(format(datum.value, '.1f'), '.', ',')"}},
            "y2": {"datum": 9.713}
          }
        }
      ]
    },
    {
      "width": 694,
      "height": 164,
      "title": {"text": "Headbox Total Consistency", "offset": -2.5, "dx": 5},
      "layer": [
        {
          "data": {"name": "g3"},
          "mark": {"type": "rule", "color": "#858585", "strokeWidth": 1},
          "encoding": {
            "y": {"field": "v", "type": "quantitative", "scale": {"domain": [0.66, 0.76], "nice": false, "zero": false}, "axis": {"title": "%", "titleY": 97, "values": [0.66, 0.68, 0.7, 0.72, 0.74, 0.76], "labelExpr": "replace(format(datum.value, '.2f'), '.', ',')"}},
            "x": {"datum": 0, "type": "quantitative", "scale": {"domain": [0, 35], "nice": false}, "axis": {"title": null, "values": [0, 5, 10, 15, 20, 25, 30, 35]}},
            "x2": {"datum": 19.65}
          }
        },
        {
          "data": {"name": "g3"},
          "mark": {"type": "rule", "color": "#8a8fa6", "strokeWidth": 1, "strokeDash": [3, 2]},
          "encoding": {
            "y": {"field": "v", "type": "quantitative", "axis": {"title": "%", "titleY": 97, "values": [0.66, 0.68, 0.7, 0.72, 0.74, 0.76], "labelExpr": "replace(format(datum.value, '.2f'), '.', ',')"}},
            "x": {"datum": 19.65, "type": "quantitative", "axis": {"title": null, "values": [0, 5, 10, 15, 20, 25, 30, 35]}},
            "x2": {"datum": 35}
          }
        },
        {
          "data": {"name": "hb"},
          "mark": {"type": "line", "color": "#1b1b9c", "strokeWidth": 3},
          "encoding": {
            "x": {"field": "t", "type": "quantitative", "axis": {"title": null, "values": [0, 5, 10, 15, 20, 25, 30, 35]}},
            "y": {"field": "v", "type": "quantitative", "axis": {"title": "%", "titleY": 97, "values": [0.66, 0.68, 0.7, 0.72, 0.74, 0.76], "labelExpr": "replace(format(datum.value, '.2f'), '.', ',')"}}
          }
        },
        {
          "data": {"name": "switch"},
          "mark": {"type": "rule", "color": "#111111", "strokeWidth": 3},
          "encoding": {
            "x": {"field": "t", "type": "quantitative", "axis": {"title": null, "values": [0, 5, 10, 15, 20, 25, 30, 35]}},
            "y": {"datum": 0.76, "type": "quantitative", "axis": {"title": "%", "titleY": 97, "values": [0.66, 0.68, 0.7, 0.72, 0.74, 0.76], "labelExpr": "replace(format(datum.value, '.2f'), '.', ',')"}},
            "y2": {"datum": 0.6195}
          }
        }
      ]
    },
    {
      "width": 694,
      "height": 163,
      "title": {"text": "Total Retention", "offset": -6.5, "dx": 6},
      "layer": [
        {
          "data": {"name": "g4"},
          "mark": {"type": "rule", "color": "#858585", "strokeWidth": 1},
          "encoding": {
            "y": {"field": "v", "type": "quantitative", "scale": {"domain": [70, 75], "nice": false, "zero": false}, "axis": {"title": "%", "titleY": 110, "values": [70, 71, 72, 73, 74, 75], "labelExpr": "format(datum.value, 'd')"}},
            "x": {"datum": 0, "type": "quantitative", "scale": {"domain": [0, 35], "nice": false}, "axis": {"title": null, "values": [0, 5, 10, 15, 20, 25, 30, 35]}},
            "x2": {"datum": 19.65}
          }
        },
        {
          "data": {"name": "g4"},
          "mark": {"type": "rule", "color": "#8a8fa6", "strokeWidth": 1, "strokeDash": [3, 2]},
          "encoding": {
            "y": {"field": "v", "type": "quantitative", "axis": {"title": "%", "titleY": 110, "values": [70, 71, 72, 73, 74, 75], "labelExpr": "format(datum.value, 'd')"}},
            "x": {"datum": 19.65, "type": "quantitative", "axis": {"title": null, "values": [0, 5, 10, 15, 20, 25, 30, 35]}},
            "x2": {"datum": 35}
          }
        },
        {
          "data": {"name": "tr"},
          "mark": {"type": "line", "color": "#8e0b0b", "strokeWidth": 3},
          "encoding": {
            "x": {"field": "t", "type": "quantitative", "axis": {"title": null, "values": [0, 5, 10, 15, 20, 25, 30, 35]}},
            "y": {"field": "v", "type": "quantitative", "axis": {"title": "%", "titleY": 110, "values": [70, 71, 72, 73, 74, 75], "labelExpr": "format(datum.value, 'd')"}}
          }
        },
        {
          "data": {"name": "switch"},
          "mark": {"type": "rule", "color": "#111111", "strokeWidth": 3},
          "encoding": {
            "x": {"field": "t", "type": "quantitative", "axis": {"title": null, "values": [0, 5, 10, 15, 20, 25, 30, 35]}},
            "y": {"datum": 75, "type": "quantitative", "axis": {"title": "%", "titleY": 110, "values": [70, 71, 72, 73, 74, 75], "labelExpr": "format(datum.value, 'd')"}},
            "y2": {"datum": 69.94}
          }
        }
      ]
    }
  ]
}
